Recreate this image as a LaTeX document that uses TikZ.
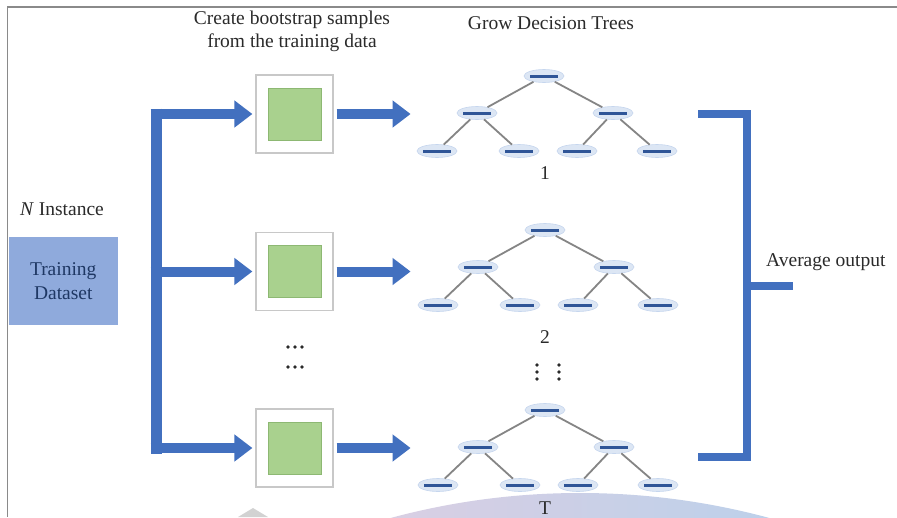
\documentclass[tikz,border=0pt]{standalone}
\usepackage{fontspec}
\setmainfont{Liberation Serif}
\usetikzlibrary{arrows.meta,shapes.geometric,calc}
\definecolor{arrowblue}{HTML}{4270BF}
\definecolor{tdfill}{HTML}{8FAADC}
\definecolor{tdtext}{HTML}{1F3864}
\definecolor{greenfill}{HTML}{A9D18E}
\definecolor{greenedge}{HTML}{8DB873}
\definecolor{boxedge}{HTML}{C8C8C8}
\definecolor{nodefill}{HTML}{DCE6F4}
\definecolor{nodeedge}{HTML}{C6D6EE}
\definecolor{nodebar}{HTML}{2F5597}
\definecolor{edgegray}{HTML}{858585}
\definecolor{framegray}{HTML}{8A8A8A}
\definecolor{txt}{HTML}{2A2A2A}
\definecolor{wmL}{HTML}{DACFE3}
\definecolor{wmR}{HTML}{BCD0EA}
\newcommand{\dtree}[3]{%
  \node[tn] (#1r)  at (#2,#3) {};
  \node[tn] (#1a)  at (#2-67,#3+37) {};
  \node[tn] (#1b)  at (#2+69,#3+37) {};
  \node[tn] (#1aa) at (#2-107,#3+75) {};
  \node[tn] (#1ab) at (#2-25,#3+75) {};
  \node[tn] (#1ba) at (#2+33,#3+75) {};
  \node[tn] (#1bb) at (#2+113,#3+75) {};
  \draw[te] (#1r) -- (#1a);
  \draw[te] (#1r) -- (#1b);
  \draw[te] (#1a) -- (#1aa);
  \draw[te] (#1a) -- (#1ab);
  \draw[te] (#1b) -- (#1ba);
  \draw[te] (#1b) -- (#1bb);
}
\begin{document}
\begin{tikzpicture}[x=1pt,y=-1pt,
  lbl/.style={font=\fontsize{19.5}{23}\selectfont, text=txt, inner sep=0pt, align=center},
  sampbox/.style={draw=boxedge, line width=1.2pt, fill=white, minimum width=77pt, minimum height=78pt, inner sep=0pt},
  greensq/.style={draw=greenedge, line width=0.8pt, fill=greenfill, minimum width=53pt, minimum height=52pt, inner sep=0pt},
  fat/.style={draw=arrowblue, line width=10pt, -{Triangle[length=18pt,width=26pt]}},
  busline/.style={draw=arrowblue, line width=11pt},
  brk/.style={draw=arrowblue, line width=8pt, line join=miter},
  tn/.style={ellipse, fill=nodefill, draw=nodeedge, line width=0.6pt, minimum width=40pt, minimum height=13pt, inner sep=0pt,
     path picture={\draw[nodebar, line width=3pt] ([xshift=6pt]path picture bounding box.west) -- ([xshift=-6pt]path picture bounding box.east);}},
  te/.style={draw=edgegray, line width=1.8pt},
  dotmark/.style={circle, fill=txt, inner sep=0pt, minimum size=3.6pt}
]
\useasboundingbox (0,0) rectangle (897,517);
\fill[white] (0,0) rectangle (897,517);
% frame
\draw[framegray, line width=1.5pt] (897,7) -- (7.5,7) -- (7.5,517);
% watermark
\begin{scope}
  \clip (580,1218) circle (725pt);
  \shade[left color=wmL, right color=wmR] (380,480) rectangle (780,517);
\end{scope}
\fill[gray!35] (238,517) -- (253,508) -- (268,517) -- cycle;

% titles
\node[lbl] (title1) at (292,31) {Create bootstrap samples\\from the training data};
\node[lbl] (title2) at (551,23) {Grow Decision Trees};
\node[lbl] (ninst) at (62,209) {\textit{N} Instance};
\node[fill=tdfill, minimum width=109.5pt, minimum height=88pt, inner sep=0pt, text=tdtext,
      font=\fontsize{19.5}{24}\selectfont, align=center] (train) at (63.25,281) {Training\\Dataset};

% sample boxes
\node[sampbox] (s1) at (294.5,114) {};
\node[greensq] (g1) at (s1) {};
\node[sampbox] (s2) at (294.5,271.5) {};
\node[greensq] (g2) at (s2) {};
\node[sampbox] (s3) at (294.5,448) {};
\node[greensq] (g3) at (s3) {};

% bus and arrows
\coordinate (bx) at (156,0);
\draw[busline] ($(bx |- s1)+(0,-5.5)$) -- ($(bx |- s3)+(0,5.5)$);
\draw[fat] ($(bx |- s1)+(-5.5,0)$) -- ([xshift=-3pt]s1.west);
\draw[fat] ($(bx |- s2)+(-5.5,0)$) -- ([xshift=-3pt]s2.west);
\draw[fat] ($(bx |- s3)+(-5.5,0)$) -- ([xshift=-3pt]s3.west);
\draw[fat] ([xshift=3pt]s1.east) -- ([xshift=77pt]s1.east);
\draw[fat] ([xshift=3pt]s2.east) -- ([xshift=77pt]s2.east);
\draw[fat] ([xshift=3pt]s3.east) -- ([xshift=77pt]s3.east);

% dots between boxes
\foreach \yy in {347,367}{
  \foreach \xx in {288,295,302}{ \node[dotmark] at (\xx,\yy) {}; }
}
\foreach \xx in {537,559}{
  \foreach \yy in {365,372,379}{ \node[dotmark] at (\xx,\yy) {}; }
}

% trees
\dtree{t1}{544}{76}
\dtree{t2}{545}{230}
\dtree{tT}{545}{410}
\node[lbl] (n1) at (545,173) {1};
\node[lbl] (n2) at (545,337) {2};
\node[lbl, anchor=north] (nT) at (545,501.5) {T};

% bracket
\coordinate (bt) at (698,114);
\coordinate (btc) at (747,114);
\coordinate (bbc) at (747,457);
\coordinate (bb) at (698,457);
\coordinate (bm) at (747,286);
\coordinate (bo) at (793,286);
\draw[brk] (bt) -- (btc) -- (bbc) -- (bb);
\draw[brk] (bm) -- (bo);
\node[lbl, anchor=west] (avg) at (766,262) {Average output};
\end{tikzpicture}
\end{document}
